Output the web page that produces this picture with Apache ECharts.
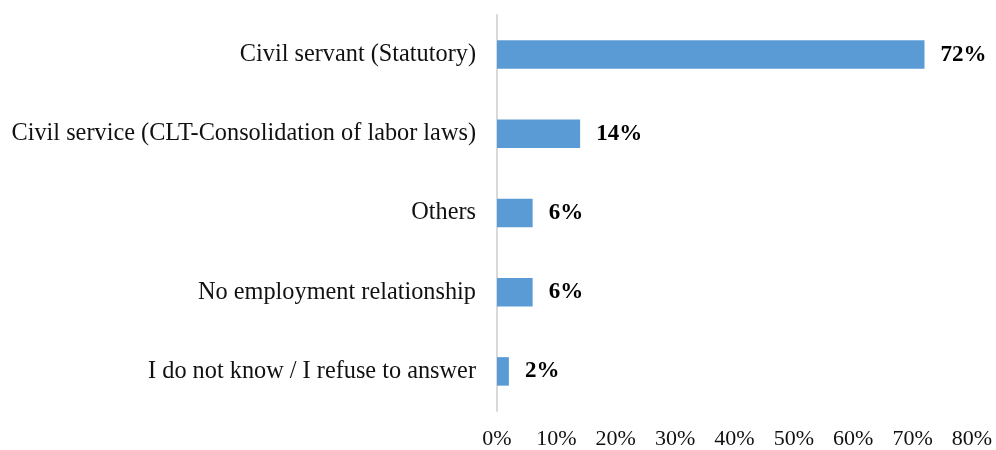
<!DOCTYPE html>
<html>
<head>
<meta charset="utf-8">
<script src="https://cdn.jsdelivr.net/npm/echarts@6/dist/echarts.min.js"></script>
<style>
  html, body { margin: 0; padding: 0; background: #ffffff; }
  #chart { width: 996px; height: 450px; }
</style>
</head>
<body>
<div id="chart"></div>
<script>
// Employment relationship categories, top to bottom
const categories = [
  'Civil servant (Statutory)',
  'Civil service (CLT-Consolidation of labor laws)',
  'Others',
  'No employment relationship',
  'I do not know / I refuse to answer'
];
// Share of respondents, in percent
const shares = [72, 14, 6, 6, 2];
// Horizontal axis range and step, in percent
const axisMin = 0;
const axisMax = 80;
const axisStep = 10;

const fontFamily = '"Liberation Serif", "Times New Roman", serif';

const chart = echarts.init(document.getElementById('chart'), null, { renderer: 'canvas' });
chart.setOption({
  animation: false,
  backgroundColor: '#ffffff',
  grid: { left: 497, right: 24, top: 15, bottom: 39, containLabel: false },
  xAxis: {
    type: 'value',
    min: axisMin,
    max: axisMax,
    interval: axisStep,
    axisLine: { show: false },
    axisTick: { show: false },
    splitLine: { show: false },
    axisLabel: {
      formatter: '{value}%',
      color: '#111111',
      fontFamily: fontFamily,
      fontSize: 22,
      margin: 17
    }
  },
  yAxis: {
    type: 'category',
    inverse: true,
    data: categories,
    axisLine: { show: true, lineStyle: { color: '#d9d9d9', width: 2 } },
    axisTick: { show: false },
    axisLabel: {
      color: '#111111',
      fontFamily: fontFamily,
      fontSize: 24.3,
      margin: 21
    }
  },
  series: [{
    type: 'bar',
    data: shares,
    barCategoryGap: '64%',
    itemStyle: { color: '#5b9bd5' },
    label: {
      show: true,
      position: 'right',
      distance: 16,
      formatter: '{c}%',
      color: '#000000',
      fontFamily: fontFamily,
      fontWeight: 'bold',
      fontSize: 23
    }
  }]
});
</script>
</body>
</html>
